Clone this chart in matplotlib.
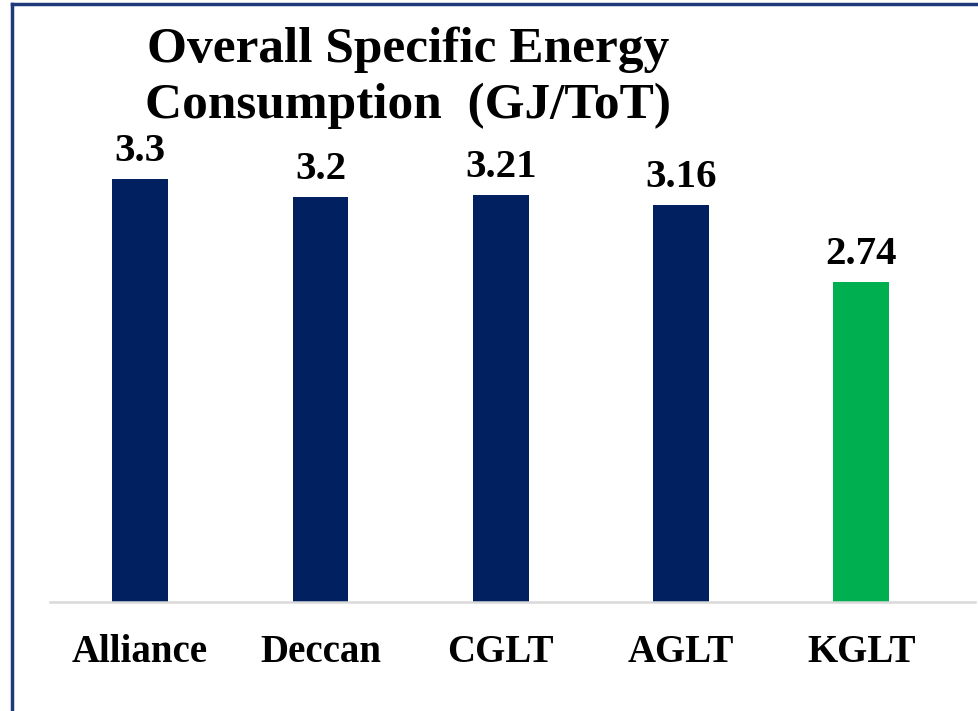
import matplotlib
matplotlib.use("Agg")
import matplotlib.pyplot as plt
from matplotlib.lines import Line2D

# data
categories = ["Alliance", "Deccan", "CGLT", "AGLT", "KGLT"]
values = [3.3, 3.2, 3.21, 3.16, 2.74]
labels = ["3.3", "3.2", "3.21", "3.16", "2.74"]
colors = ["#002060", "#002060", "#002060", "#002060", "#00B050"]

plt.rcParams['font.family'] = ['Liberation Serif', 'DejaVu Serif']

fig = plt.figure(figsize=(9.79, 7.11), dpi=100)
ax = fig.add_axes([50/979, 1 - 602/711, 925/979, 460/711])

x = list(range(len(categories)))
ax.bar(x, [v - 1.0 for v in values], bottom=1.0, width=0.31, color=colors, zorder=2)
ax.set_xlim(-0.5, 4.63)
ax.set_ylim(1.0, 3.5)

for s in ["top", "right", "left"]:
    ax.spines[s].set_visible(False)
ax.spines["bottom"].set_color("#D9D9D9")
ax.spines["bottom"].set_linewidth(1.8)
ax.set_yticks([])
ax.set_xticks([])

# value labels
for xi, v, lab in zip(x, values, labels):
    ax.annotate(lab, xy=(xi, v), xytext=(0, 13), textcoords="offset points",
                ha="center", va="baseline", fontsize=29.5, fontweight="bold")

# category labels
for xi, cat in zip(x, categories):
    ax.annotate(cat, xy=(xi, 1.0), xytext=(0, -43.5), textcoords="offset points",
                ha="center", va="baseline", fontsize=28, fontweight="bold")

# title
fig.text(408/979, 1 - 62/711, "Overall Specific Energy", ha="center", va="baseline",
         fontsize=37, fontweight="bold")
fig.text(408/979, 1 - 118/711, "Consumption  (GJ/ToT)", ha="center", va="baseline",
         fontsize=37, fontweight="bold")

# frame lines
fig.add_artist(Line2D([12/979, 1.0], [1 - 4/711, 1 - 4/711], color="#1F3A7A", lw=2.5,
                      transform=fig.transFigure))
fig.add_artist(Line2D([12/979, 12/979], [0, 1 - 4/711], color="#1F3A7A", lw=2.5,
                      transform=fig.transFigure))

fig.savefig("out.png", dpi=100)
